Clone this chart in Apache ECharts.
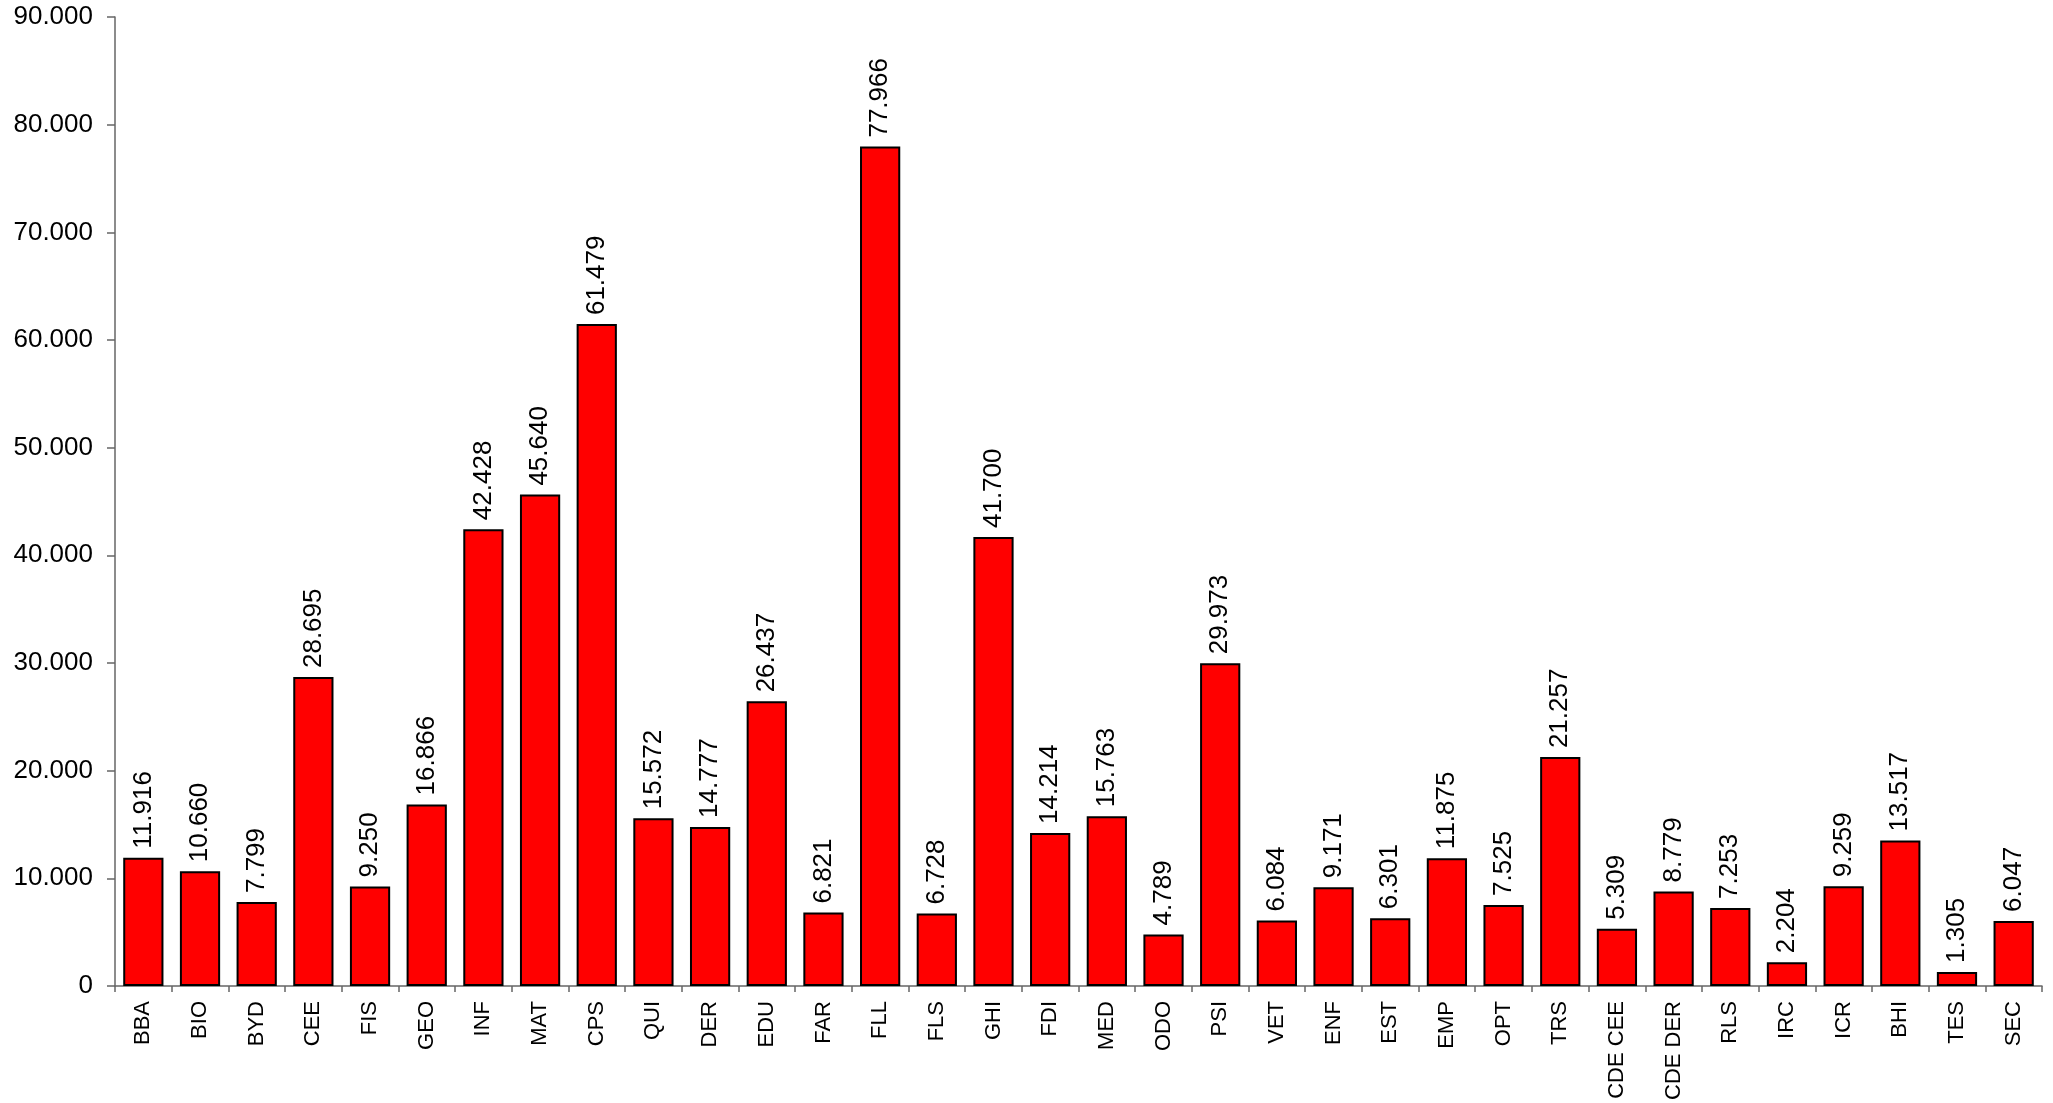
<!DOCTYPE html>
<html>
<head>
<meta charset="utf-8">
<script src="https://cdn.jsdelivr.net/npm/echarts@6/dist/echarts.min.js"></script>
<style>
html,body{margin:0;padding:0;background:#fff;}
#chart{width:2053px;height:1103px;}
</style>
</head>
<body>
<div id="chart"></div>
<script>
const categories = ["BBA","BIO","BYD","CEE","FIS","GEO","INF","MAT","CPS","QUI","DER","EDU","FAR","FLL","FLS","GHI","FDI","MED","ODO","PSI","VET","ENF","EST","EMP","OPT","TRS","CDE CEE","CDE DER","RLS","IRC","ICR","BHI","TES","SEC"];
const values = [11916,10660,7799,28695,9250,16866,42428,45640,61479,15572,14777,26437,6821,77966,6728,41700,14214,15763,4789,29973,6084,9171,6301,11875,7525,21257,5309,8779,7253,2204,9259,13517,1305,6047];
const yMax = 90000;
const yInterval = 10000;

function fmt(v){
  if (v === 0) return '0';
  return String(v).replace(/\B(?=(\d{3})+(?!\d))/g, '.');
}

const chart = echarts.init(document.getElementById('chart'));
chart.setOption({
  animation: false,
  backgroundColor: '#ffffff',
  textStyle: { fontFamily: 'Liberation Sans, Arial, sans-serif' },
  grid: { left: 115, right: 11, top: 17, bottom: 116, containLabel: false },
  xAxis: {
    type: 'category',
    data: categories,
    axisLine: { lineStyle: { color: '#666', width: 1.5 } },
    axisTick: { show: true, length: 6, lineStyle: { color: '#666', width: 1.5 } },
    axisLabel: { rotate: 90, margin: 15, fontSize: 22, color: '#000', interval: 0, fontFamily: 'Liberation Sans' }
  },
  yAxis: {
    type: 'value',
    min: 0, max: yMax, interval: yInterval,
    splitLine: { show: false },
    axisLine: { show: true, lineStyle: { color: '#666', width: 1.5 } },
    axisTick: { show: true, length: 8, lineStyle: { color: '#666', width: 1.5 } },
    axisLabel: { margin: 22, fontSize: 26, color: '#000', formatter: fmt, fontFamily: 'Liberation Sans' }
  },
  series: [{
    type: 'bar',
    data: values,
    barWidth: '71%',
    itemStyle: { color: '#ff0000', borderColor: '#000', borderWidth: 2 },
    label: {
      show: true,
      position: 'top',
      rotate: 90,
      align: 'left',
      verticalAlign: 'middle',
      distance: 9,
      fontSize: 26,
      color: '#000',
      fontFamily: 'Liberation Sans',
      formatter: p => fmt(p.value)
    }
  }]
});
</script>
</body>
</html>
